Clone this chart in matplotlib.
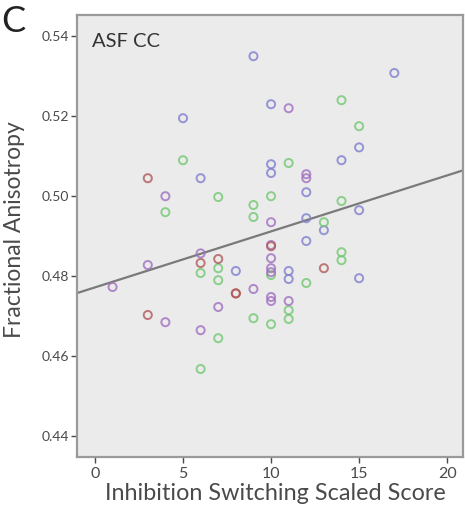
import matplotlib
matplotlib.use("Agg")
import matplotlib.pyplot as plt
import numpy as np

# scores and FA values, one pair of lists per group colour
blue_x = [9, 17, 5, 10, 15, 14, 6, 10, 10, 12, 12, 15, 13, 12, 8, 11, 11, 15]
blue_y = [0.535, 0.5308, 0.5195, 0.523, 0.5122, 0.509, 0.5045, 0.508, 0.5058, 0.501,
          0.4945, 0.4965, 0.4915, 0.4888, 0.4813, 0.4813, 0.4793, 0.4795]
green_x = [14, 15, 5, 7, 11, 10, 9, 9, 14, 13, 6, 7, 7, 10, 12, 14, 14, 9, 10, 11, 11, 7, 6, 4]
green_y = [0.524, 0.5175, 0.509, 0.4998, 0.5083, 0.500, 0.4978, 0.4948, 0.4988, 0.4935,
           0.4808, 0.482, 0.479, 0.4803, 0.4783, 0.486, 0.484, 0.4695, 0.468, 0.4715,
           0.4693, 0.4645, 0.4568, 0.496]
purple_x = [11, 4, 12, 12, 10, 10, 10, 10, 10, 6, 1, 3, 4, 7, 6, 9, 10, 10, 11]
purple_y = [0.522, 0.500, 0.5055, 0.5045, 0.4935, 0.4878, 0.4845, 0.482, 0.481, 0.4857,
            0.4773, 0.4828, 0.4685, 0.4723, 0.4665, 0.4768, 0.4748, 0.4738, 0.4738]
red_x = [3, 6, 7, 3, 13, 8, 8, 10]
red_y = [0.5045, 0.4833, 0.4843, 0.4703, 0.482, 0.4757, 0.4757, 0.4875]

# fit line
fit_intercept = 0.4772
fit_slope = 0.0014

x_ticks = [0, 5, 10, 15, 20]
y_ticks = [0.44, 0.46, 0.48, 0.50, 0.52, 0.54]

plt.rcParams['font.family'] = ['Lato', 'DejaVu Sans']

fig = plt.figure(figsize=(4.65, 5.09), dpi=100)
ax = fig.add_axes([0.1656, 0.1022, 0.8301, 0.8683])
ax.set_facecolor('#ebebeb')

groups = [(blue_x, blue_y, '#7f7fd0'), (green_x, green_y, '#72c872'),
          (purple_x, purple_y, '#a070c0'), (red_x, red_y, '#b05a5a')]
for gx, gy, c in groups:
    ax.scatter(gx, gy, s=34, facecolors='none', edgecolors=c, linewidths=1.4, alpha=0.8, zorder=3)

ax.set_xlim(-1.02, 20.9)
ax.set_ylim(0.4348, 0.5453)
xl = np.array(ax.get_xlim())
ax.plot(xl, fit_intercept + fit_slope * xl, color='#7a7a7a', lw=1.6, zorder=2)

ax.set_xticks(x_ticks)
ax.set_xticklabels([str(t) for t in x_ticks])
ax.set_yticks(y_ticks)
ax.set_yticklabels(['%.2f' % t for t in y_ticks])
ax.tick_params(colors='#4a4a4a', length=4, width=1, direction='out')
ax.tick_params(axis='x', labelsize=11.5, pad=3)
ax.tick_params(axis='y', labelsize=10, pad=2)
for s in ax.spines.values():
    s.set_color('#9a9a9a')
    s.set_linewidth(1.6)

ax.set_xlabel('Inhibition Switching Scaled Score', fontsize=16.8, color='#4a4a4a')
ax.xaxis.set_label_coords(0.513, -0.058)
ax.set_ylabel('Fractional Anisotropy', fontsize=16.5, color='#4a4a4a')
ax.yaxis.set_label_coords(-0.135, 0.514)

ax.text(0.04, 0.96, 'ASF CC', transform=ax.transAxes, fontsize=14.5, color='#333333', va='top')
fig.text(0.003, 0.99, 'C', fontsize=26, color='#222222', va='top', ha='left')

fig.savefig('out.png', dpi=100)
